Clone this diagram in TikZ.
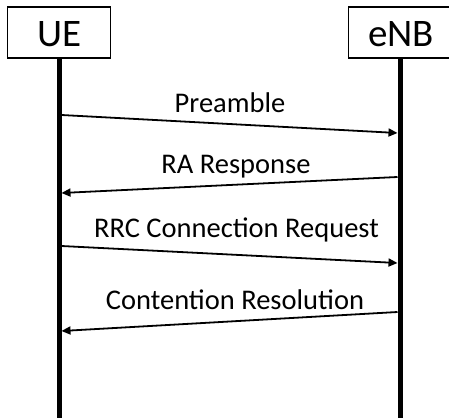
\documentclass[tikz,border=0pt]{standalone}
\usepackage{fontspec}
\setmainfont{Carlito}
\usetikzlibrary{arrows.meta}
\begin{document}
\begin{tikzpicture}[x=1pt,y=-1pt,
  entity/.style={draw,line width=1.5pt,minimum width=103pt,minimum height=51pt,inner sep=0pt},
  entlabel/.style={anchor=base,inner sep=0pt,font=\fontsize{39}{42}\selectfont},
  lifeline/.style={line width=5pt},
  msg/.style={line width=1.8pt,-{Triangle[length=9pt,width=8pt]}},
  msglabel/.style={anchor=base,inner sep=0pt,font=\fontsize{28.5}{32}\selectfont}]
\useasboundingbox (0,0) rectangle (449,417);
\node[entity] (ue) at (59,32.7) {};
\node[entity] (enb) at (400,32.7) {};
\node[entlabel] (uet) at (59.5,46.5) {UE};
\node[entlabel] (enbt) at (401,46.5) {eNB};
\coordinate (uebot) at (59,420);
\coordinate (enbbot) at (400,420);
\draw[lifeline] (ue.south) -- (uebot);
\draw[lifeline] (enb.south) -- (enbbot);
% message end points
\coordinate (a1) at (61.5,115);
\coordinate (b1) at (397.5,133);
\coordinate (b2) at (397.5,177);
\coordinate (a2) at (61.5,193);
\coordinate (a3) at (61.5,246);
\coordinate (b3) at (397.5,263);
\coordinate (b4) at (397.5,312);
\coordinate (a4) at (61.5,331);
\draw[msg] (a1) -- (b1);
\draw[msg] (b2) -- (a2);
\draw[msg] (a3) -- (b3);
\draw[msg] (b4) -- (a4);
\node[msglabel] (l1) at (230,112) {Preamble};
\node[msglabel] (l2) at (236,173) {RA Response};
\node[msglabel] (l3) at (236.5,237) {RRC Connection Request};
\node[msglabel] (l4) at (235,309) {Contention Resolution};
\end{tikzpicture}
\end{document}
